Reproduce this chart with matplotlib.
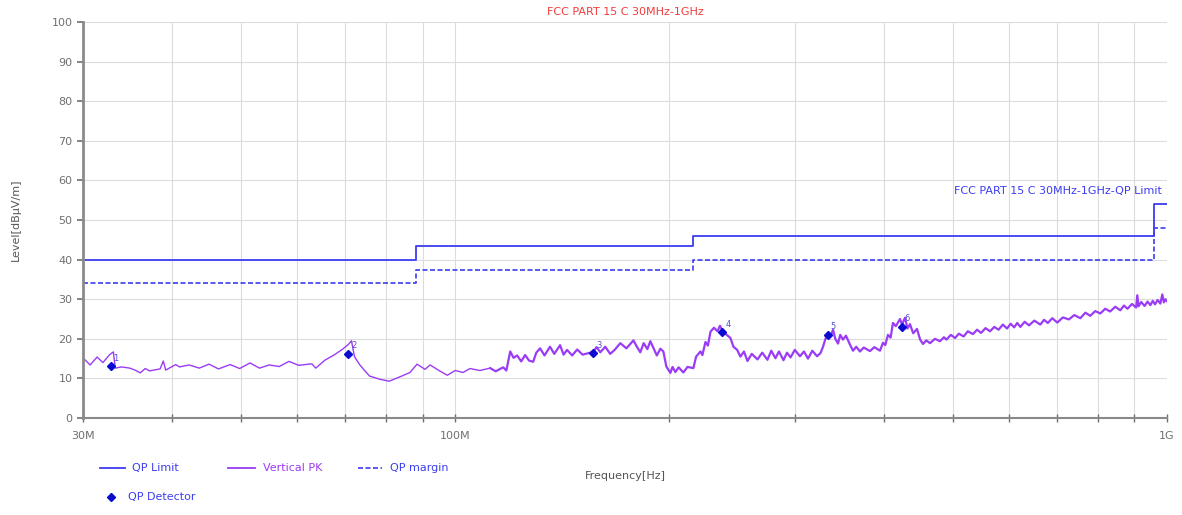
import matplotlib.pyplot as plt
from matplotlib.lines import Line2D
import numpy as np

## ======= Data (frequency in MHz, level in dBuV/m)

# QP limit / margin steps
limit_freq = [30, 88, 88, 216, 216, 960, 960, 1000]
limit_level = [40, 40, 43.5, 43.5, 46, 46, 54, 54]
margin_level = [34, 34, 37.5, 37.5, 40, 40, 48, 48]

# Vertical PK trace, 30-112 MHz (thin part)
pk_freq_low = [30.0, 30.7, 31.4, 32.0, 32.7, 33.1, 33.3, 34.0, 34.9, 35.5, 36.1, 36.7, 37.2,
               38.5, 38.9, 39.2, 40.5, 41.0, 42.3, 43.7, 45.1, 46.5, 48.3, 49.8, 51.5, 53.1,
               54.8, 56.6, 58.4, 60.3, 62.9, 63.7, 65.6, 67.7, 69.5, 70.8, 71.5, 72.2, 73.4,
               74.6, 75.8, 78.3, 80.8, 84.4, 86.4, 88.4, 90.7, 92.2, 95.3, 97.5, 100.0, 102.6,
               104.9, 108.3, 112.0]
pk_level_low = [15.2, 13.4, 15.4, 14.0, 16.0, 16.7, 12.6, 12.9, 12.6, 12.1, 11.4, 12.5, 11.9,
                12.4, 14.4, 12.1, 13.5, 12.9, 13.4, 12.6, 13.6, 12.4, 13.5, 12.5, 13.9, 12.6,
                13.4, 13.0, 14.3, 13.3, 13.7, 12.6, 14.6, 16.0, 17.4, 18.6, 19.5, 15.5, 13.5,
                12.0, 10.6, 9.8, 9.3, 10.7, 11.5, 13.6, 12.3, 13.4, 11.8, 10.8, 12.0, 11.5,
                12.5, 12.0, 12.6]

# Vertical PK trace, 112 MHz - 1 GHz (dense, noisy part)
pk_freq_high = [112.0, 114.0, 116.8, 118.0, 119.5, 120.8, 122.2, 123.8, 125.4, 127.0, 128.7,
                130.0, 131.6, 133.5, 135.9, 137.8, 140.4, 142.0, 143.6, 146.0, 148.4, 151.0,
                153.3, 156.3, 158.0, 159.9, 162.5, 165.1, 167.5, 170.6, 174.0, 178.0, 180.0,
                182.0, 184.0, 186.2, 188.0, 189.3, 192.0, 194.2, 196.1, 198.0, 200.6, 202.0,
                203.9, 206.0, 209.2, 212.0, 216.1, 218.0, 221.1, 222.5, 224.7, 226.5, 228.4,
                231.0, 233.6, 235.5, 237.4, 240.0, 243.6, 246.0, 249.0, 251.6, 254.5, 257.4,
                261.0, 265.9, 270.0, 274.6, 278.0, 281.8, 285.0, 289.2, 292.5, 295.9, 300.0,
                305.1, 309.0, 313.1, 317.5, 322.4, 326.0, 328.7, 331.0, 334.0, 336.5, 339.5,
                342.0, 345.0, 347.5, 350.6, 354.0, 358.7, 362.2, 366.0, 370.4, 375.0, 382.6,
                388.0, 395.2, 399.0, 402.0, 405.5, 409.0, 412.1, 416.0, 421.6, 424.3, 428.5,
                432.0, 435.4, 440.0, 445.4, 450.0, 454.2, 459.0, 464.6, 472.0, 479.9, 486.0,
                490.0, 497.0, 503.8, 510.0, 518.0, 525.0, 533.9, 541.0, 548.0, 556.0, 564.1,
                572.0, 580.0, 588.0, 596.0, 603.0, 610.0, 616.0, 622.3, 631.0, 640.0, 651.0,
                663.7, 672.0, 680.0, 690.0, 701.3, 714.0, 728.0, 741.0, 755.5, 768.0, 780.0,
                793.0, 805.9, 819.0, 832.0, 846.0, 859.8, 870.0, 880.0, 893.0, 905.0, 908.4,
                912.0, 920.0, 930.0, 939.0, 947.7, 955.0, 962.0, 970.0, 978.6, 985.0, 990.0,
                995.0, 1000.0]
pk_level_high = [12.6, 11.8, 12.8, 12.0, 16.8, 15.2, 15.8, 14.3, 15.9, 14.5, 14.2,
                 16.5, 17.6, 15.8, 18.0, 16.2, 18.4, 16.0, 17.2, 15.8, 17.3, 16.0,
                 16.3, 16.7, 17.9, 16.6, 18.0, 16.2, 17.2, 18.9, 17.6, 19.6, 18.0,
                 16.6, 18.9, 17.4, 19.4, 18.2, 15.8, 17.5, 16.8, 13.0, 11.4, 12.9,
                 11.6, 12.8, 11.5, 12.9, 12.6, 15.5, 16.8, 15.9, 19.2, 18.3, 21.8,
                 22.8, 21.9, 23.3, 22.0, 21.2, 20.2, 18.0, 17.2, 15.5, 16.8, 14.4,
                 16.2, 14.8, 16.5, 14.7, 17.0, 15.1, 16.8, 14.6, 16.5, 15.3, 17.2,
                 15.6, 16.8, 15.0, 17.0, 15.6, 16.4, 18.0, 19.8, 21.5, 20.5, 22.3,
                 20.0, 18.8, 21.0, 19.8, 20.8, 18.5, 17.0, 18.0, 16.8, 17.8, 16.9,
                 17.9, 17.0, 19.0, 18.4, 21.0, 20.3, 24.0, 23.2, 25.0, 23.6, 25.3,
                 22.6, 23.7, 21.4, 22.5, 19.8, 18.7, 19.6, 18.9, 20.0, 19.4, 20.4,
                 19.8, 21.0, 20.2, 21.3, 20.6, 21.9, 21.2, 22.3, 21.5, 22.7, 21.9,
                 23.0, 22.3, 23.6, 22.6, 23.8, 22.9, 24.0, 23.0, 24.3, 23.4, 24.6,
                 23.6, 24.8, 24.0, 25.2, 24.1, 25.4, 24.9, 26.0, 25.2, 26.6, 25.8,
                 27.0, 26.4, 27.6, 26.9, 28.1, 27.2, 28.4, 27.6, 28.8, 27.9, 31.0,
                 28.2, 29.3, 28.3, 29.4, 28.5, 29.6, 28.7, 29.8, 28.9, 31.2, 29.2,
                 30.0, 29.5]

# QP detector points
qp_freq = [32.8, 70.8, 156.3, 237.4, 334.0, 424.3]
qp_level = [13.1, 16.2, 16.4, 21.7, 21.0, 23.0]
qp_names = ['1', '2', '3', '4', '5', '6']

# Axis ticks
grid_freq = [40, 50, 60, 70, 80, 90, 100, 200, 300, 400, 500, 600, 700, 800, 900]
tick_freq = [30, 100, 1000]
tick_names = ['30M', '100M', '1G']

# Colors
c_limit = '#3c3cf0'
c_pk = '#9a3cf5'
c_qp = '#0a0ad0'
c_grey = '#707070'

fig = plt.figure(figsize=(11.82, 5.15), dpi=100)
ax = fig.add_axes([0.0702, 0.1883, 0.9171, 0.769])

ax.plot(np.array(pk_freq_low) * 1e6, pk_level_low, color=c_pk, lw=1.0)
ax.plot(np.array(pk_freq_high) * 1e6, pk_level_high, color=c_pk, lw=1.6)
ax.plot(np.array(limit_freq) * 1e6, limit_level, color=c_limit, lw=1.3)
ax.plot(np.array(limit_freq) * 1e6, margin_level, color=c_limit, lw=1.2, ls=(0, (3, 1.5)))
ax.plot(np.array(qp_freq) * 1e6, qp_level, ls='none', marker='D', ms=4.5, color=c_qp)
for f, lv, n in zip(qp_freq, qp_level, qp_names):
    ax.annotate(n, (f * 1e6, lv), xytext=(2, 4), textcoords='offset points',
                fontsize=6, color='#5050d0')

ax.set_xscale('log')
ax.set_xlim(30e6, 1000e6)
ax.set_ylim(0, 100)
ax.set_yticks(np.arange(0, 101, 10))
ax.set_xticks([f * 1e6 for f in tick_freq])
ax.set_xticklabels(tick_names)
ax.set_xticks([f * 1e6 for f in grid_freq], minor=True)
ax.xaxis.set_minor_formatter(plt.NullFormatter())

ax.grid(True, which='both', color='#dcdcdc', lw=0.8)
ax.set_axisbelow(True)
for s in ['top', 'right']:
    ax.spines[s].set_visible(False)
ax.spines['left'].set_color('#8a8a8a')
ax.spines['left'].set_linewidth(2.0)
ax.spines['bottom'].set_color('#8a8a8a')
ax.spines['bottom'].set_linewidth(1.5)
ax.tick_params(axis='y', colors=c_grey, labelsize=8, length=4, width=1.2, direction='out')
ax.tick_params(axis='x', which='both', colors=c_grey, labelsize=8, length=6, width=1.0,
               direction='inout', pad=6)

ax.set_xlabel('Frequency[Hz]', fontsize=8, color='#555555', labelpad=22)
ax.set_ylabel('Level[dBμV/m]', fontsize=8, color='#555555', labelpad=22)
ax.set_title('FCC PART 15 C 30MHz-1GHz', fontsize=8, color='#f03c3c', pad=5)
ax.text(0.995, 0.573, 'FCC PART 15 C 30MHz-1GHz-QP Limit', transform=ax.transAxes,
        ha='right', va='center', fontsize=8, color=c_limit)

# Legend drawn below the axes
leg_y1 = 1 - 468 / 515
leg_y2 = 1 - 497 / 515
fig.add_artist(Line2D([100 / 1182, 125 / 1182], [leg_y1, leg_y1], color=c_limit, lw=1.3))
fig.text(132 / 1182, leg_y1, 'QP Limit', fontsize=8, color=c_limit, va='center')
fig.add_artist(Line2D([228 / 1182, 255 / 1182], [leg_y1, leg_y1], color=c_pk, lw=1.3))
fig.text(263 / 1182, leg_y1, 'Vertical PK', fontsize=8, color=c_pk, va='center')
fig.add_artist(Line2D([358 / 1182, 382 / 1182], [leg_y1, leg_y1], color=c_limit, lw=1.2,
                      ls=(0, (3, 1.5))))
fig.text(390 / 1182, leg_y1, 'QP margin', fontsize=8, color=c_limit, va='center')
fig.add_artist(Line2D([111 / 1182], [leg_y2], color=c_qp, marker='D', ms=4, ls='none'))
fig.text(128 / 1182, leg_y2, 'QP Detector', fontsize=8, color=c_limit, va='center')

fig.savefig('out.png', dpi=100)
